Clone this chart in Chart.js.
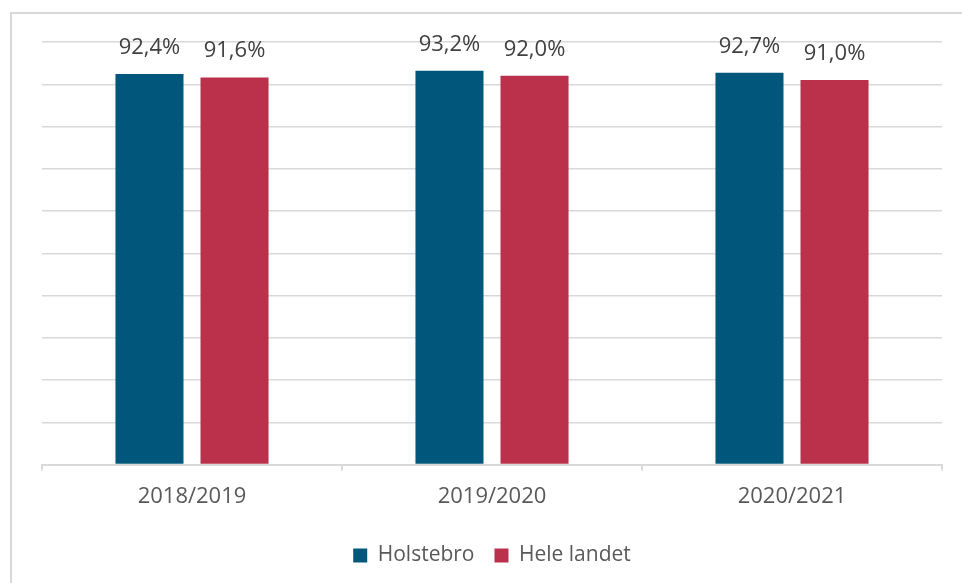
<!DOCTYPE html>
<html>
<head>
<meta charset="utf-8">
<script src="https://cdn.jsdelivr.net/npm/chart.js@4.4.1/dist/chart.umd.min.js"></script>
<style>
  html, body { margin: 0; padding: 0; background: #fff; }
  canvas { display: block; }
</style>
</head>
<body>
<canvas id="chart" width="962" height="583"></canvas>
<script>
const YEARS = ['2018/2019', '2019/2020', '2020/2021'];
const HOLSTEBRO = [92.4, 93.2, 92.7];
const HELE_LANDET = [91.6, 92.0, 91.0];

const BLUE = '#00577B';
const RED = '#BB304B';
const GRID = '#d9d9d9';

// light frame on the left and top, like the cropped office chart
const frame = {
  id: 'frame',
  beforeDraw: (chart) => {
    const {ctx} = chart
    ctx.save()
    ctx.strokeStyle = GRID
    ctx.lineWidth = 2
    ctx.beginPath()
    ctx.moveTo(11, chart.height)
    ctx.lineTo(11, 13)
    ctx.lineTo(chart.width, 13)
    ctx.stroke()
    ctx.restore()
  }
}

// value labels above each bar, danish decimal comma
const valueLabels = {
  id: 'valueLabels',
  afterDatasetsDraw: (chart) => {
    const {ctx} = chart
    ctx.save()
    ctx.font = '22px "Open Sans"'
    ctx.fillStyle = '#404040'
    ctx.textAlign = 'center'
    ctx.textBaseline = 'alphabetic'
    chart.data.datasets.forEach((ds, i) => {
      chart.getDatasetMeta(i).data.forEach((bar, j) => {
        const txt = ds.data[j].toFixed(1).replace('.', ',') + '%'
        ctx.fillText(txt, bar.x, bar.y - 20)
      })
    })
    ctx.restore()
  }
}

const data = {
  labels: YEARS,
  datasets: [
    {label: 'Holstebro', data: HOLSTEBRO, backgroundColor: BLUE, borderWidth: 0},
    {label: 'Hele landet', data: HELE_LANDET, backgroundColor: RED, borderWidth: 0}
  ]
}

const options = {
  responsive: false,
  animation: false,
  devicePixelRatio: 1,
  categoryPercentage: 0.567,
  barPercentage: 0.8,
  layout: {padding: {left: 42, top: 42, right: 20, bottom: 7}},
  plugins: {
    tooltip: {enabled: false},
    legend: {
      position: 'bottom',
      labels: {
        font: {family: 'Open Sans', size: 21},
        color: '#595959',
        boxWidth: 14,
        boxHeight: 14,
        padding: 20
      }
    }
  },
  scales: {
    x: {
      grid: {drawOnChartArea: false, drawTicks: true, tickLength: 6, color: GRID, lineWidth: 2},
      border: {color: GRID, width: 2},
      ticks: {font: {family: 'Open Sans', size: 22}, color: '#595959', padding: 13},
      afterFit: (scale) => { scale.height += 2 }
    },
    y: {
      min: 0,
      max: 100,
      ticks: {display: false, stepSize: 10},
      grid: {color: GRID, lineWidth: 1.5, drawTicks: false},
      border: {display: false}
    }
  }
}

const chart = new Chart(document.getElementById('chart'), {
  type: 'bar',
  data,
  options,
  plugins: [frame, valueLabels]
})
</script>
</body>
</html>
